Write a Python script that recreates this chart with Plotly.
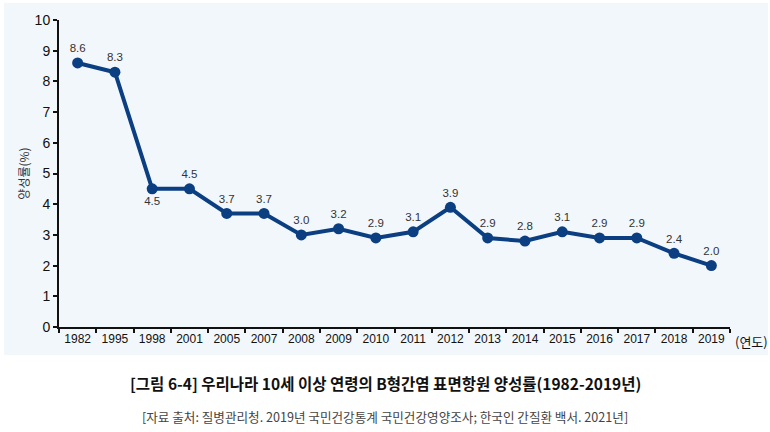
import plotly.graph_objects as go

years = ["1982", "1995", "1998", "2001", "2005", "2007", "2008", "2009", "2010",
         "2011", "2012", "2013", "2014", "2015", "2016", "2017", "2018", "2019"]
rates = [8.6, 8.3, 4.5, 4.5, 3.7, 3.7, 3.0, 3.2, 2.9,
         3.1, 3.9, 2.9, 2.8, 3.1, 2.9, 2.9, 2.4, 2.0]
label_pos = ["top center"] * len(years)
label_pos[2] = "bottom center"
y_ticks = list(range(0, 11))

title_text = "[그림 6-4] 우리나라 10세 이상 연령의 B형간염 표면항원 양성률(1982-2019년)"
source_text = "[자료 출처: 질병관리청. 2019년 국민건강통계 국민건강영양조사; 한국인 간질환 백서. 2021년]"

num = "Liberation Sans, Arial, sans-serif"
kr = "Noto Sans CJK KR, sans-serif"

fig = go.Figure()
fig.add_trace(go.Scatter(
    x=years, y=rates,
    mode="lines+markers+text",
    line=dict(color="#0B3F82", width=4),
    marker=dict(color="#0B3F82", size=11),
    text=[f"{v:.1f}" for v in rates],
    textposition=label_pos,
    textfont=dict(family=num, size=11.5, color="#333333"),
    cliponaxis=False,
    hoverinfo="skip",
))

L, R, T, B = 59, 40, 20, 105
W, H = 770, 432
pw = W - L - R
ph = H - T - B

fig.add_shape(type="rect", xref="paper", yref="paper",
              x0=(4 - L) / pw, x1=(768 - L) / pw,
              y0=-(355 - (H - B)) / ph, y1=((H - B) - 3) / ph,
              fillcolor="#F2F7FC", line=dict(width=0), layer="below")

fig.update_layout(
    width=W, height=H,
    margin=dict(l=L, r=R, t=T, b=B),
    paper_bgcolor="white",
    plot_bgcolor="rgba(0,0,0,0)",
    showlegend=False,
    xaxis=dict(
        type="category", range=[-0.5, 17.5], automargin=False, tickangle=0,
        showline=True, linecolor="#111111", linewidth=2,
        ticks="outside", tickson="boundaries", ticklen=4, tickcolor="#111111", tickwidth=1.5,
        showgrid=False, zeroline=False,
        tickfont=dict(family=num, size=12, color="#111111"),
    ),
    yaxis=dict(
        range=[0, 10], tickvals=y_ticks, automargin=False,
        showline=True, linecolor="#111111", linewidth=2,
        ticks="outside", ticklen=4, tickcolor="#111111", tickwidth=1.5,
        showgrid=False, zeroline=False,
        tickfont=dict(family=num, size=14, color="#111111"),
        title=dict(text="양성률(%)", font=dict(family=kr, size=12, color="#333333"), standoff=2),
    ),
    annotations=[
        dict(text="(연도)", xref="paper", yref="paper", x=(733 - L) / pw, y=-(341 - (H - B)) / ph,
             xanchor="left", yanchor="middle", showarrow=False,
             font=dict(family=kr, size=13, color="#111111")),
        dict(text="<b>" + title_text + "</b>", xref="paper", yref="paper",
             x=(385 - L) / pw, y=-(383 - (H - B)) / ph, xanchor="center", yanchor="middle",
             showarrow=False, font=dict(family=kr, size=15.5, color="#111111")),
        dict(text=source_text, xref="paper", yref="paper",
             x=(385 - L) / pw, y=-(416 - (H - B)) / ph, xanchor="center", yanchor="middle",
             showarrow=False, font=dict(family=kr, size=12.6, color="#444444")),
    ],
)

fig.write_html("out.html", config={"displayModeBar": False},
               post_script="document.body.style.margin='0';")
